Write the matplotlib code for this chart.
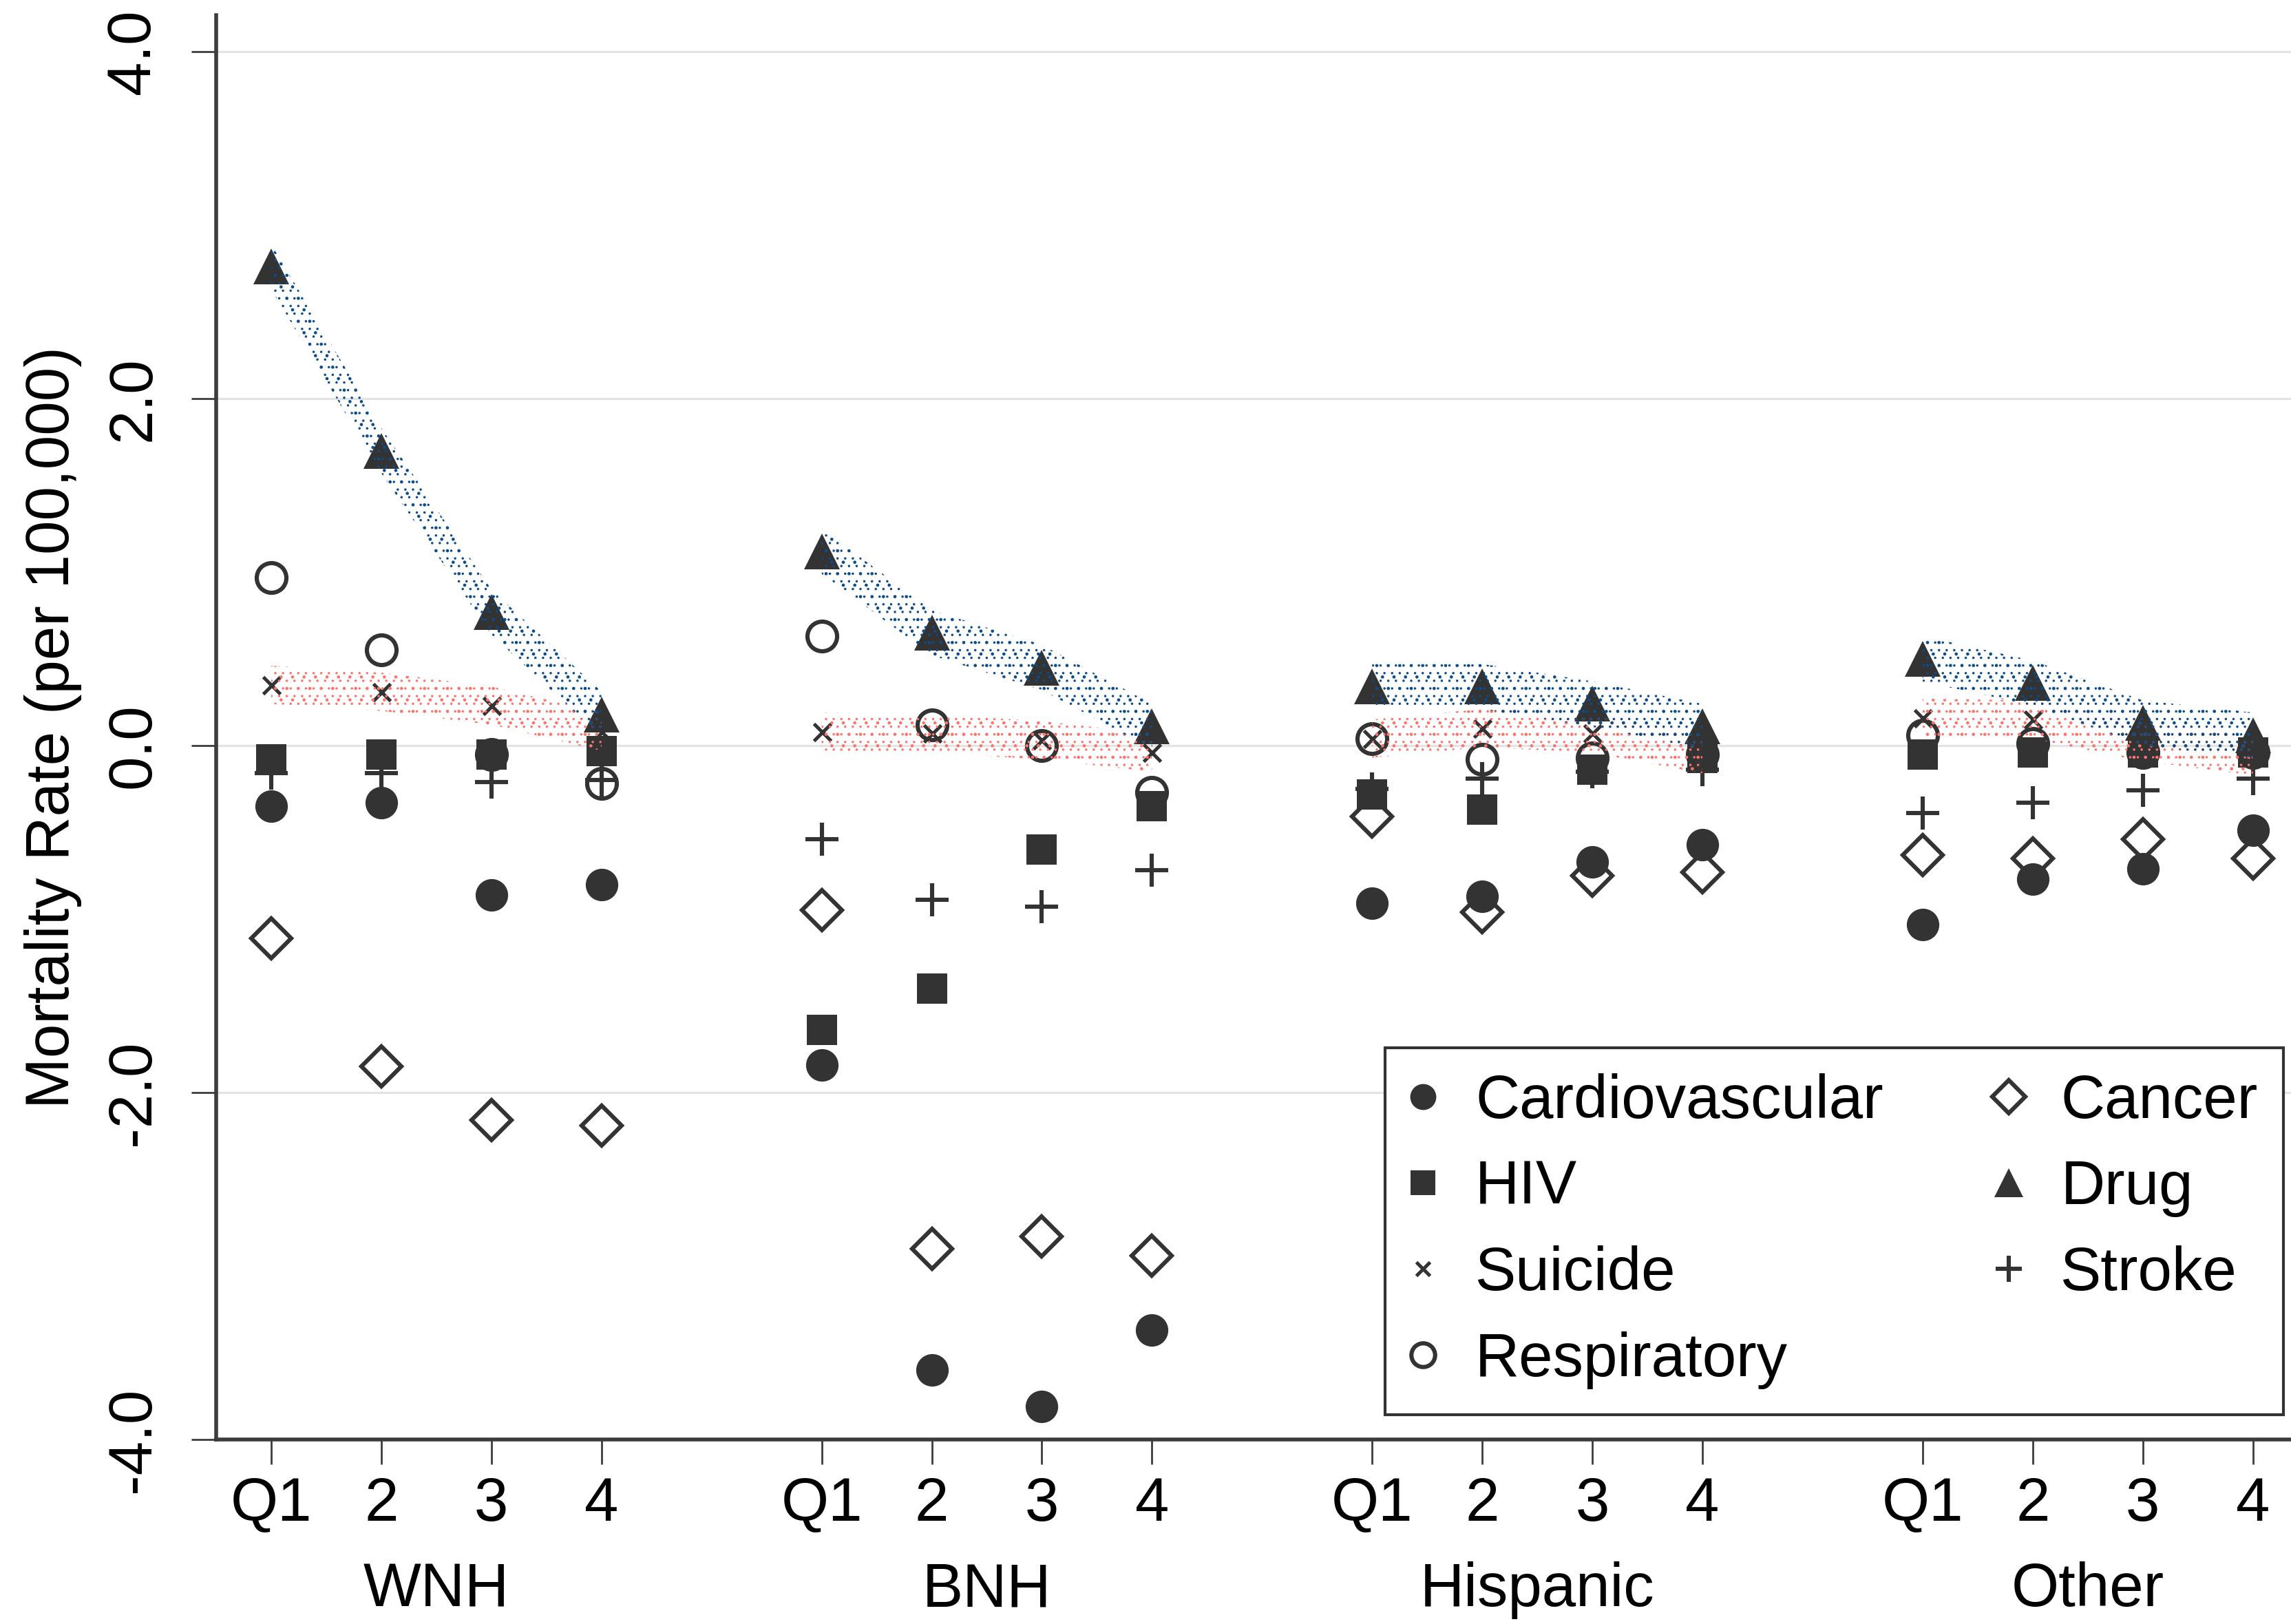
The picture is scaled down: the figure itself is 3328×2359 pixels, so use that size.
import numpy as np
import matplotlib
matplotlib.use("Agg")
import matplotlib.pyplot as plt
from matplotlib.lines import Line2D

# Race/ethnicity groups and income quartiles on the x axis
groups = ["WNH", "BNH", "Hispanic", "Other"]
quartiles = ["Q1", "2", "3", "4"]

# Mortality rate change (per 100,000) by cause, ordered group by group, Q1..Q4
cardiovascular = [-0.35, -0.33, -0.86, -0.80,
                  -1.84, -3.60, -3.81, -3.37,
                  -0.91, -0.87, -0.67, -0.57,
                  -1.03, -0.77, -0.71, -0.49]
hiv = [-0.08, -0.05, -0.05, -0.03,
       -1.64, -1.40, -0.60, -0.35,
       -0.28, -0.37, -0.14, -0.07,
       -0.05, -0.04, -0.04, -0.04]
suicide = [0.35, 0.31, 0.23, 0.08,
           0.08, 0.07, 0.03, -0.04,
           0.04, 0.10, 0.07, -0.05,
           0.16, 0.15, 0.02, -0.06]
respiratory = [0.97, 0.55, -0.05, -0.22,
               0.63, 0.12, 0.00, -0.27,
               0.04, -0.08, -0.07, -0.05,
               0.06, 0.01, -0.04, -0.04]
cancer = [-1.11, -1.85, -2.16, -2.19,
          -0.95, -2.90, -2.83, -2.94,
          -0.41, -0.96, -0.75, -0.73,
          -0.63, -0.65, -0.54, -0.65]
drug = [2.76, 1.70, 0.77, 0.18,
        1.12, 0.65, 0.45, 0.11,
        0.34, 0.34, 0.24, 0.11,
        0.50, 0.36, 0.13, 0.06]
stroke = [-0.16, -0.16, -0.21, -0.20,
          -0.54, -0.89, -0.93, -0.72,
          -0.25, -0.19, -0.15, -0.14,
          -0.39, -0.33, -0.26, -0.19]

yticks = [-4.0, -2.0, 0.0, 2.0, 4.0]

plt.rcParams['font.family'] = ['Liberation Sans', 'DejaVu Sans']
plt.rcParams['hatch.linewidth'] = 0.45

W, H, DPI = 3328, 2359, 200
fig = plt.figure(figsize=(W / DPI, H / DPI), dpi=DPI)
ax = fig.add_axes([314 / W, 1 - 2091 / H, (3352.6 - 314) / W, (2091 - 22) / H])

n_q = len(quartiles)
x = np.array([g * (n_q + 1) + q for g in range(len(groups)) for q in range(n_q)], dtype=float)

ink = '#333333'
# (label, values, marker style, z-order): filled symbols sit above the open ones
series = [
    ("Cardiovascular", cardiovascular, dict(marker='o', ms=17, mfc=ink, mec=ink, mew=0), 4),
    ("HIV", hiv, dict(marker='s', ms=16, mfc=ink, mec=ink, mew=0), 4),
    ("Suicide", suicide, dict(marker='x', ms=9, mfc=ink, mec=ink, mew=1.8), 4.5),
    ("Respiratory", respiratory, dict(marker='o', ms=15.5, mfc='none', mec=ink, mew=2.2), 3),
    ("Cancer", cancer, dict(marker='D', ms=15, mfc='none', mec=ink, mew=2.2), 3),
    ("Drug", drug, dict(marker='^', ms=19, mfc=ink, mec=ink, mew=0), 4),
    ("Stroke", stroke, dict(marker='+', ms=17, mfc=ink, mec=ink, mew=2.2), 3),
]

for label, vals, style, z in series:
    ax.plot(x, vals, linestyle='none', zorder=z, **style)

# stippled trend bands for drug and suicide mortality within each group;
# two overlaid dot screens of different pitch give an irregular speckle
def stipple_band(vals, half, color):
    vals = np.asarray(vals, dtype=float)
    for g in range(len(groups)):
        sl = slice(g * n_q, (g + 1) * n_q)
        for pattern in ('..', '...'):
            ax.fill_between(x[sl], vals[sl] - half, vals[sl] + half,
                            facecolor='none', edgecolor=color, hatch=pattern,
                            linewidth=0, zorder=5)

stipple_band(suicide, 0.11, '#f8766d')
stipple_band(drug, 0.13, '#0a4c8c')

ax.set_xlim(-0.5, 18.5)
ax.set_ylim(-4.0, 4.21)

for y in yticks[1:]:
    ax.axhline(y, color='#e4e4e4', lw=1.2, zorder=0)

for s in ('top', 'right'):
    ax.spines[s].set_visible(False)
for s in ('left', 'bottom'):
    ax.spines[s].set_color('#3c3c3c')
    ax.spines[s].set_linewidth(2.0)

ax.set_xticks(x)
ax.set_xticklabels(quartiles * len(groups))
ax.set_yticks(yticks)
ax.set_yticklabels([f"{v:.1f}" for v in yticks], rotation=90, va='center')
ax.tick_params(axis='both', length=13, width=1.0, color='#3c3c3c', labelsize=32)
ax.tick_params(axis='x', pad=6)
ax.tick_params(axis='y', pad=15)

ax.set_ylabel("Mortality Rate (per 100,000)", fontsize=32, labelpad=12)

for g, name in enumerate(groups):
    cx = x[g * n_q:(g + 1) * n_q].mean()
    ax.text(cx, -0.106, name, transform=ax.get_xaxis_transform(),
            ha='center', va='center', fontsize=32)

handles = [Line2D([], [], linestyle='none', **style) for _, _, style, _ in series]
labels = [lab for lab, _, _, _ in series]
leg = ax.legend(handles, labels, ncol=2, loc='lower right',
                bbox_to_anchor=(3317 / W, 1 - 2055 / H), bbox_transform=fig.transFigure,
                borderaxespad=0, fontsize=32, markerscale=0.8, frameon=True,
                fancybox=False, framealpha=1, edgecolor='#333333',
                borderpad=0.42, labelspacing=0.46, handlelength=0.4,
                handletextpad=0.65, columnspacing=1.85)
leg.get_frame().set_linewidth(1.5)
leg.set_zorder(10)

fig.savefig("out.png", dpi=DPI)
